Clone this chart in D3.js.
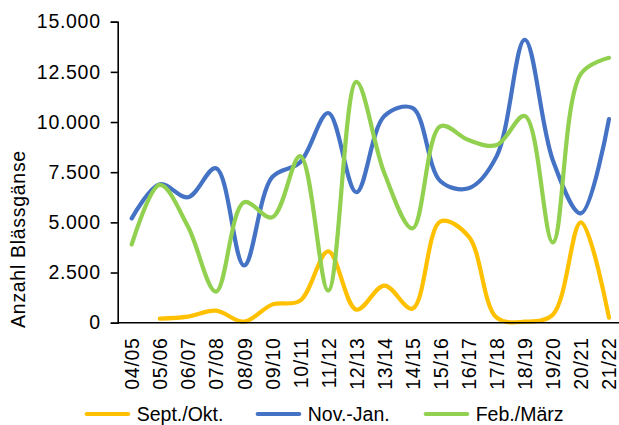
<!DOCTYPE html>
<html>
<head>
<meta charset="utf-8">
<script src="https://cdn.jsdelivr.net/npm/d3@7"></script>
<style>
  html, body { margin: 0; padding: 0; background: #fff; }
  svg { display: block; font-family: "Liberation Sans", Arial, sans-serif; }
</style>
</head>
<body>
<svg id="chart" width="619" height="425"></svg>
<script>
// Winter seasons
const seasons = ["04/05","05/06","06/07","07/08","08/09","09/10","10/11","11/12","12/13",
                 "13/14","14/15","15/16","16/17","17/18","18/19","19/20","20/21","21/22"];

// Counts per period (null = no count)
const septOkt = [null, 200, 300, 600, 50, 900, 1100, 3550, 650, 1850, 700, 5050, 4300, 250, 50, 400, 5000, 250];
const novJan  = [5200, 6900, 6250, 7700, 2850, 7250, 8000, 10450, 6500, 10300, 10700, 7050, 6700, 8300, 14100, 8100, 5450, 10150];
const febMaerz = [3900, 6870, 4800, 1550, 6000, 5250, 8300, 1600, 12000, 7450, 4700, 9800, 9100, 8850, 10300, 4000, 12400, 13200];

const yTicks = [0, 2500, 5000, 7500, 10000, 12500, 15000];

const series = [
  { name: "Sept./Okt.", values: septOkt,  color: "#FFC000" },
  { name: "Nov.-Jan.",  values: novJan,   color: "#4472C4" },
  { name: "Feb./März",  values: febMaerz, color: "#92D050" }
];

const svg = d3.select("#chart");
const plotLeft = 117.7, plotRight = 623, plotTop = 21.7, plotBottom = 322.7;

const x = d3.scalePoint().domain(seasons).range([plotLeft, plotRight]).padding(0.5);
const y = d3.scaleLinear().domain([0, 15000]).range([plotBottom, plotTop]);

const fmt = v => d3.format(",")(v).replace(/,/g, ".");

// Smoothed lines
const line = d3.line()
  .x(d => x(d.s))
  .y(d => y(d.v))
  .curve(d3.curveCatmullRom.alpha(0.5));

series.forEach(s => {
  const pts = seasons.map((k, i) => ({ s: k, v: s.values[i] })).filter(d => d.v != null);
  svg.append("path")
    .datum(pts)
    .attr("d", line)
    .attr("fill", "none")
    .attr("stroke", s.color)
    .attr("stroke-width", 4.2)
    .attr("stroke-linecap", "round")
    .attr("stroke-linejoin", "round");
});

// Y axis
const yAxis = svg.append("g")
  .attr("transform", `translate(${plotLeft},0)`)
  .call(d3.axisLeft(y).tickValues(yTicks).tickFormat(fmt).tickSize(7).tickPadding(10));
yAxis.select(".domain").attr("stroke", "#000").attr("stroke-width", 1.6);
yAxis.selectAll(".tick line").attr("stroke", "#000").attr("stroke-width", 1.6);
yAxis.selectAll(".tick text")
  .attr("fill", "#000")
  .style("font-size", "19.5px")
  .style("letter-spacing", "0.7px")
  .style("font-family", '"Liberation Sans", Arial, sans-serif');

// X axis
const xAxis = svg.append("g")
  .attr("transform", `translate(0,${plotBottom})`)
  .call(d3.axisBottom(x).tickSize(0).tickSizeOuter(0));
xAxis.select(".domain")
  .attr("d", `M${plotLeft},0H619`)
  .attr("stroke", "#000").attr("stroke-width", 1.6);
xAxis.selectAll(".tick text")
  .attr("fill", "#000")
  .style("font-size", "19.5px")
  .style("letter-spacing", "0.7px")
  .style("font-family", '"Liberation Sans", Arial, sans-serif')
  .attr("text-anchor", "end")
  .attr("dy", null)
  .attr("y", 0)
  .attr("transform", "translate(7,14.7) rotate(-90)");

// Y axis title
svg.append("text")
  .attr("transform", "translate(25,239) rotate(-90)")
  .attr("text-anchor", "middle")
  .style("font-size", "19.5px")
  .style("letter-spacing", "0.7px")
  .attr("fill", "#000")
  .text("Anzahl Blässgänse");

// Legend
const legendX = [86.7, 257.7, 425.7];
const legend = svg.append("g");
series.forEach((s, i) => {
  const g = legend.append("g").attr("transform", `translate(${legendX[i]},414)`);
  g.append("line")
    .attr("x1", 0).attr("x2", 41.5)
    .attr("stroke", s.color).attr("stroke-width", 4.2)
    .attr("stroke-linecap", "round");
  g.append("text")
    .attr("x", 50).attr("y", 7)
    .style("font-size", "19.5px")
    .attr("fill", "#000")
    .text(s.name);
});
</script>
</body>
</html>
